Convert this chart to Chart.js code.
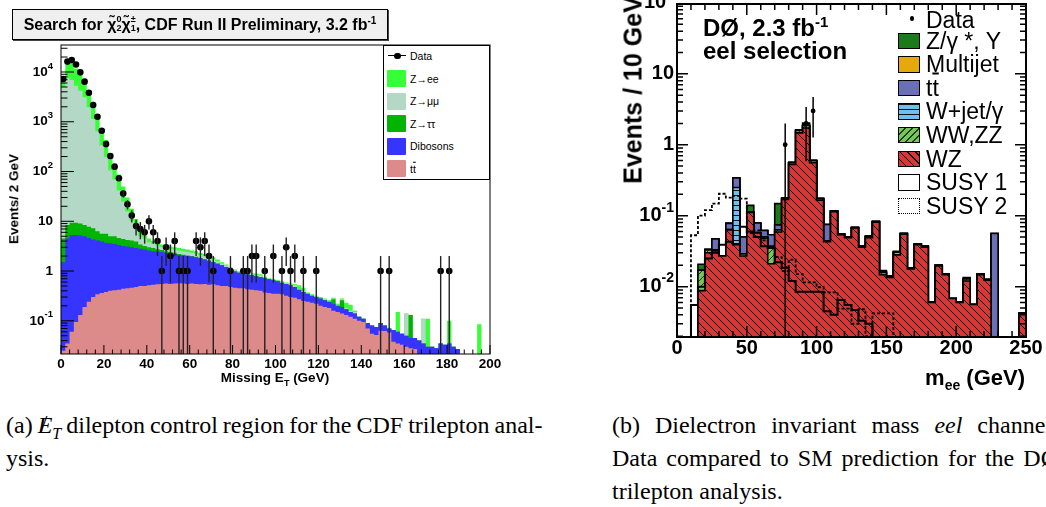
<!DOCTYPE html>
<html>
<head>
<meta charset="utf-8">
<title>CDF and DØ trilepton plots</title>
<script src="https://cdn.jsdelivr.net/npm/chart.js@4.4.1/dist/chart.umd.min.js"></script>
<style>
  html, body { margin: 0; padding: 0; background: #fff; }
  body { position: relative; width: 1046px; height: 507px; overflow: hidden;
         font-family: "Liberation Sans", Arial, Helvetica, sans-serif; color: #000; }
  canvas { position: absolute; top: 0; }
  #cdf { left: 0; }
  #d0 { left: 560px; }
  .c { position: absolute; white-space: nowrap; line-height: 1; transform: translate(-50%, -50%); }
  .r { position: absolute; white-space: nowrap; line-height: 1; transform: translate(-100%, -50%); }
  .l { position: absolute; white-space: nowrap; line-height: 1; transform: translate(0, -50%); }
  .rot { transform: translate(-50%, -50%) rotate(-90deg); }
  .b { font-weight: bold; }
  sub, sup { line-height: 0; }
  #title { position: absolute; left: 12px; top: 9px; width: 376px; height: 31px; box-sizing: border-box;
           border: 1px solid #000; background: #efefef; box-shadow: 1px 1px 0 #444;
           font: bold 16px "Liberation Sans", Arial, sans-serif; line-height: 29px;
           text-align: center; white-space: nowrap; }
  .ss { display: inline-block; vertical-align: middle; font-size: 9px; line-height: 9px;
        text-align: left; margin: -4px 0 0 0; }
  .sw { position: absolute; box-sizing: border-box; }
  .ll { position: absolute; font-size: 10.5px; line-height: 1; transform: translate(0, -50%); white-space: nowrap; }
  .dl { position: absolute; font-size: 23px; line-height: 1; transform: translate(0, -50%); white-space: nowrap; }
  .ov { text-decoration: overline; }
  .cap { position: absolute; font: 24px "Liberation Serif", "Times New Roman", serif; line-height: 1; white-space: nowrap; }
  .just { text-align: justify; text-align-last: justify; white-space: normal; }
  .met { position: relative; display: inline-block; font-style: italic; }
  .met .sl { position: absolute; left: 3px; top: -2px; font-style: normal; }
</style>
</head>
<body>
<canvas id="cdf" width="520" height="400"></canvas>
<canvas id="d0" width="486" height="400"></canvas>

<div id="title">Search for χ̃<span class="ss">0<br>2</span>χ̃<span class="ss">±<br>1</span>, CDF Run II Preliminary, 3.2 fb<sup style="font-size:10px">-1</sup></div>

<div class="c rot b" style="left:14px; top:199px; font-size:13.5px;">Events/ 2 GeV</div>
<div class="c b" style="left:275px; top:378px; font-size:13.5px;">Missing E<sub style="font-size:9px">T</sub> (GeV)</div>

<div class="c rot b" style="left:633px; top:90px; font-size:25px;">Events / 10 GeV</div>
<div class="l b" style="left:703px; top:28px; font-size:24px;">DØ, 2.3 fb<sup style="font-size:15px">-1</sup></div>
<div class="l b" style="left:703px; top:51px; font-size:24px;">eel selection</div>
<div class="r b" style="left:1025px; top:378px; font-size:22px;">m<sub style="font-size:14px">ee</sub> (GeV)</div>

<div class="cap" style="left:6px; top:413px; word-spacing:-1px;">(a) <span class="met">E<span class="sl">/</span></span><sub style="font-size:16px"><i>T</i></sub> dilepton control region for the CDF trilepton anal-</div>
<div class="cap" style="left:6px; top:446px;">ysis.</div>
<div class="cap just" style="left:612px; top:413px; width:446px;">(b) Dielectron invariant mass <i>eel</i> channel.</div>
<div class="cap just" style="left:612px; top:446px; width:446px;">Data compared to SM prediction for the DØ</div>
<div class="cap" style="left:612px; top:479px;">trilepton analysis.</div>

<script>
// ---------- CDF: missing ET, 2 GeV bins from 0 to 200 ----------
const cdfBinWidth = 2;
const cdfData = [7240,16200,17400,14200,9850,6400,3840,2170,1260,660,
  356,205,125,73,36,22,13,8,7,6,
  10,6,4,1,3,2,4,1,1,1,
  0,4,3,4,2,1,0,0,0,1,
  0,0,1,1,2,2,0,1,0,2,
  0,1,3,1,2,0,1,0,0,1,
  0,0,0,0,0,0,0,0,0,0,
  0,0,0,0,1,0,1,0,0,0,
  0,0,0,0,0,0,0,0,1,0,
  1,0,0,0,0,0,0,0,0,0];
const cdfTtbar = [0.025,0.035,0.06,0.095,0.13,0.19,0.24,0.3,0.34,0.36,
  0.38,0.4,0.41,0.42,0.44,0.45,0.46,0.48,0.5,0.5,
  0.52,0.53,0.54,0.55,0.56,0.55,0.56,0.57,0.56,0.55,
  0.56,0.55,0.54,0.55,0.53,0.54,0.52,0.5,0.5,0.48,
  0.46,0.45,0.45,0.43,0.42,0.41,0.4,0.37,0.36,0.35,
  0.35,0.34,0.32,0.3,0.29,0.27,0.25,0.24,0.23,0.22,
  0.2,0.19,0.18,0.16,0.15,0.14,0.13,0.12,0.11,0.1,
  0.095,0.07,0.055,0.052,0.063,0.062,0.058,0.038,0.035,0.033,
  0.03,0.028,0.027,0.02,0.018,0.016,0.014,0.012,0.011,0.01,
  0.009,0.008,0.007,0.006,0.005,0.004,0.004,0.003,0.003,0.002];
const cdfDiboson = [1.47,4.46,5.24,5.2,5.07,4.81,4.36,4.0,3.76,3.54,
  3.32,3.2,3.09,2.93,2.76,2.65,2.54,2.42,2.3,2.2,
  2.08,1.97,1.91,1.85,1.74,1.7,1.64,1.53,1.49,1.45,
  1.39,1.35,1.26,1.15,1.07,0.96,0.88,0.8,0.7,0.6,
  0.52,0.47,0.43,0.42,0.4,0.37,0.35,0.35,0.32,0.3,
  0.27,0.24,0.23,0.22,0.19,0.15,0.13,0.11,0.09,0.08,
  0.08,0.07,0.06,0.06,0.05,0.05,0.04,0.03,0.03,0.02,
  0.015,0.02,0.025,0.023,0.027,0.018,0.012,0.027,0.025,0.022,
  0.02,0.017,0.018,0.02,0.017,0.014,0.016,0.016,0.024,0.023,
  0.026,0.022,0.02,0,0,0,0,0,0,0];
const cdfZtautau = [3.0,3.9,4.0,4.0,3.8,3.4,3.2,2.9,2.2,1.7,
  1.9,1.4,1.5,1.25,1.2,1.1,1.1,1.0,0.6,0.5,
  0.4,0.4,0.3,0.25,0.2,0.15,0.12,0.1,0.08,0.06,
  0.05,0.04,0.03,0.03,0.02,0.02,0.02,0.01,0.01,0.01,
  0.01,0.01,0.01,0.01,0.01,0.01,0.01,0.01,0,0,
  0,0,0,0,0,0,0,0,0,0,
  0,0,0,0.05,0,0.07,0,0,0,0,
  0,0,0,0,0,0,0,0,0,0,
  0,0.085,0,0,0,0,0,0,0,0,
  0,0,0,0,0,0,0,0,0,0];
const cdfZmumu = [5000,7500,6900,5300,4200,3100,1950,1130,640,330,
  190,101,64,37,20.5,11.6,6.2,3.2,1.6,1.3,
  0.8,0.6,0.5,0.4,0.38,0.4,0.38,0.4,0.37,0.35,
  0.33,0.3,0.26,0.25,0.2,0.2,0.15,0.1,0.08,0.05,
  0.05,0.03,0.03,0.02,0.05,0.02,0.06,0.02,0.02,0.02,
  0.02,0.02,0.02,0.02,0.05,0.02,0.02,0.01,0.01,0.01,
  0.01,0.01,0.01,0.01,0.01,0.01,0.01,0.01,0.01,0,
  0,0,0,0,0,0,0,0,0,0,
  0.09,0,0,0,0.075,0,0,0,0,0,
  0,0,0,0,0,0,0,0,0,0];
const cdfZee = [2500,9500,8490,6490,5190,3790,2380,1390,784,404,
  234,124,79,45.5,25,14.2,7.5,3.9,1.9,1.0,
  0.7,0.5,0.45,0.35,0.32,0.3,0.3,0.3,0.3,0.29,
  0.27,0.26,0.21,0.22,0.18,0.18,0.13,0.09,0.06,0.04,
  0.03,0.03,0.02,0.02,0.02,0.08,0.04,0.02,0.02,0.02,
  0.02,0.02,0.02,0.02,0.02,0.08,0.06,0.01,0.01,0.01,
  0.01,0.01,0.01,0.01,0.01,0.01,0.05,0.05,0.01,0,
  0,0,0,0,0,0,0,0,0.09,0,
  0,0,0,0,0,0.08,0,0,0,0,
  0.065,0,0,0,0,0,0,0.082,0,0];
const cdfXLabels = [0, 20, 40, 60, 80, 100, 120, 140, 160, 180, 200];
const cdfYLabels = [0.1, 1, 10, 100, 1000, 10000];

// ---------- DØ: m_ee, 5 GeV bins from 0 to 250 ----------
const d0BinWidth = 5;
const d0Data = [0,0,0,0,0,0,0,0,0,0, 0,0,0,0,0,1,0,0,2,3,
  0,0,0,0,0,0,0,0,0,0, 0,0,0,0,0,0,0,0,0,0, 0,0,0,0,0,0,0,0,0,0];
const d0WZ = [0,0,0,0.0088,0.030,0.032,0.027,0.063,0.039,0.027,
  0.111,0.057,0.048,0.021,0.059,0.17,0.53,1.47,1.72,0.56,
  0.166,0.043,0.114,0.054,0.049,0.067,0.036,0.049,0.081,0.0147,
  0.0135,0.028,0.055,0.0178,0.039,0.036,0.006,0.0195,0.0147,0.0068,
  0.006,0.012,0.0056,0.0147,0.0123,0,0,0,0,0.0042];
const d0WWZZ = [0,0,0,0.0082,0.003,0.001,0,0.001,0.001,0.002,
  0.002,0.001,0.002,0.016,0.004,0.006,0.03,0.12,0.15,0.04,
  0.009,0.001,0.002,0.001,0.001,0.001,0.001,0.002,0.002,0.0012,
  0.0005,0.0025,0.001,0.0005,0.001,0.001,0,0.0005,0.0005,0,
  0,0.0008,0,0.0004,0.0003,0,0,0,0,0];
const d0Wjet = [0,0,0,0,0,0,0,0,0.21,0, 0,0,0,0,0,0,0,0,0,0,
  0,0,0,0,0,0,0,0,0,0, 0,0,0,0,0,0,0,0,0,0, 0,0,0,0,0,0,0,0,0,0];
const d0Ttbar = [0,0,0,0,0,0.014,0,0.014,0.09,0.021,
  0,0.021,0.012,0.017,0.011,0,0,0,0,0,
  0,0.031,0,0,0,0,0,0,0,0,
  0,0,0,0,0,0,0,0,0,0,
  0,0,0,0,0,0.056,0,0,0,0];
const d0Multijet = [0,0,0,0,0,0,0,0,0,0, 0,0,0,0,0,0,0,0,0,0,
  0,0,0,0,0,0,0,0,0,0, 0,0,0,0,0,0,0,0,0,0, 0,0,0,0,0,0,0,0,0,0];
const d0Zgamma = [0,0,0,0.0037,0.001,0,0,0,0,0,
  0.027,0,0,0,0.074,0,0,0.04,0.15,0,
  0,0,0,0,0,0,0,0.001,0,0.001,
  0,0.001,0,0,0,0,0,0,0,0,
  0,0.0006,0,0,0,0,0,0,0,0];
const d0Susy1 = [0,0,0.0055,0.01,0.025,0.03,0.039,0.043,0.04,0.07,
  0.06,0.05,0.037,0.035,0.022,0.0185,0.012,0.0085,0.0085,0.0085,
  0.0085,0.0045,0.004,0.0065,0.0055,0.0047,0.0033,0.003,0,0,
  0,0,0,0,0,0,0,0,0,0, 0,0,0,0,0,0,0,0,0,0];
const d0Susy2 = [0,0,0.053,0.10,0.12,0.148,0.204,0.18,0.19,0.174,
  0.057,0.062,0.045,0.035,0.026,0.0166,0.024,0.015,0.0115,0.0115,
  0.0098,0.0083,0.0083,0.0049,0.0049,0.003,0.0048,0.002,0.0042,0.0042,
  0.0042,0,0,0,0,0,0,0,0,0, 0,0,0,0,0,0,0,0,0,0];
const d0XLabels = [0, 50, 100, 150, 200, 250];
const d0YLabels = [0.01, 0.1, 1, 10, 100];

// ---------- helpers ----------
const FLOOR = 1e-9; // below the axis, so empty bins drop out of view

function edges(n, w) {
  const e = [];
  for (let i = 0; i <= n; i++) e.push(i * w);
  return e;
}

// running sums, bottom layer first
function cumulate(layers) {
  const out = [];
  let run = layers[0].map(() => 0);
  layers.forEach(l => {
    run = run.map((v, i) => v + l[i]);
    out.push(run);
  });
  return out;
}

// histogram outline as points for a stepped line
function histPoints(values, w) {
  const e = edges(values.length, w);
  const pts = [{ x: 0, y: FLOOR }];
  values.forEach((v, i) => pts.push({ x: e[i], y: v > 0 ? v : FLOOR }));
  const last = values[values.length - 1];
  pts.push({ x: e[values.length], y: last > 0 ? last : FLOOR });
  pts.push({ x: e[values.length], y: FLOOR });
  return pts;
}

function dataPoints(counts, w) {
  const pts = [];
  counts.forEach((n, i) => { if (n > 0) pts.push({ x: i * w + w / 2, y: n }); });
  return pts;
}

function hatch(fill, dir, size, lineColor, lw) {
  const c = document.createElement('canvas');
  c.width = c.height = size;
  const g = c.getContext('2d');
  g.fillStyle = fill;
  g.fillRect(0, 0, size, size);
  g.strokeStyle = lineColor;
  g.lineWidth = lw;
  g.beginPath();
  if (dir === 'back') {
    for (const k of [-1, 0, 1]) { g.moveTo(k * size, 0); g.lineTo(k * size + size, size); }
  } else if (dir === 'fwd') {
    for (const k of [-1, 0, 1]) { g.moveTo(k * size, size); g.lineTo(k * size + size, 0); }
  } else {
    g.moveTo(0, 0.5); g.lineTo(size, 0.5);
  }
  g.stroke();
  return g.createPattern(c, 'repeat');
}

function logTicks(min, max) {
  const t = [];
  for (let e = Math.floor(Math.log10(min)); e <= Math.ceil(Math.log10(max)); e++) {
    for (let m = 1; m < 10; m++) {
      const v = m * Math.pow(10, e);
      if (v >= min && v <= max) t.push({ v, major: m === 1 });
    }
  }
  return t;
}

function linTicks(max, minorStep, majorStep) {
  const t = [];
  for (let v = 0; v <= max + 1e-9; v += minorStep) t.push({ v, major: Math.abs(v / majorStep - Math.round(v / majorStep)) < 1e-6 });
  return t;
}

function drawPow(ctx, v, xr, yc, baseFont, expFont, raise) {
  const e = Math.round(Math.log10(v));
  const base = e === 0 ? '1' : '10';
  const exp = (e === 0 || e === 1) ? '' : String(e);
  ctx.font = baseFont;
  const wb = ctx.measureText(base).width;
  ctx.font = expFont;
  const we = exp ? ctx.measureText(exp).width : 0;
  ctx.textAlign = 'left';
  ctx.textBaseline = 'middle';
  ctx.font = baseFont;
  ctx.fillText(base, xr - wb - we, yc);
  if (exp) {
    ctx.font = expFont;
    ctx.fillText(exp, xr - we, yc - raise);
  }
}

// ROOT-like frame: ticks pointing inwards, labels drawn from the scales
function frameAxes(o) {
  return {
    id: 'frameAxes',
    afterDatasetsDraw(chart) {
      const { ctx, chartArea: a } = chart;
      const x = chart.scales.x, y = chart.scales.y;
      ctx.save();
      ctx.strokeStyle = '#000';
      ctx.lineWidth = o.tickWidth;
      ctx.beginPath();
      o.yTicks.forEach(t => {
        const py = y.getPixelForValue(t.v);
        if (py < a.top - 0.5 || py > a.bottom + 0.5) return;
        const len = t.major ? o.yMajorLen : o.yMinorLen;
        ctx.moveTo(a.left, py); ctx.lineTo(a.left + len, py);
        if (o.mirror) { ctx.moveTo(a.right, py); ctx.lineTo(a.right - len, py); }
      });
      o.xTicks.forEach(t => {
        const px = x.getPixelForValue(t.v);
        const len = t.major ? o.xMajorLen : o.xMinorLen;
        ctx.moveTo(px, a.bottom); ctx.lineTo(px, a.bottom - len);
        if (o.mirror) { ctx.moveTo(px, a.top); ctx.lineTo(px, a.top + len); }
      });
      ctx.stroke();
      ctx.lineWidth = o.frameWidth;
      ctx.strokeRect(a.left, a.top, a.right - a.left, a.bottom - a.top);
      ctx.fillStyle = '#000';
      o.yLabels.forEach(v => drawPow(ctx, v, a.left - o.yLabelGap, y.getPixelForValue(v), o.font, o.expFont, o.raise));
      ctx.font = o.font;
      ctx.textAlign = 'center';
      ctx.textBaseline = 'middle';
      o.xLabels.forEach(v => ctx.fillText(String(v), x.getPixelForValue(v), a.bottom + o.xLabelOffset));
      ctx.restore();
    }
  };
}

function errorBars(counts, w, color, width) {
  return {
    id: 'errorBars',
    afterDatasetsDraw(chart) {
      const { ctx, chartArea: a } = chart;
      const x = chart.scales.x, y = chart.scales.y;
      ctx.save();
      ctx.beginPath();
      ctx.rect(a.left, a.top, a.right - a.left, a.bottom - a.top);
      ctx.clip();
      ctx.strokeStyle = color;
      ctx.lineWidth = width;
      counts.forEach((n, i) => {
        if (!n) return;
        const px = x.getPixelForValue(i * w + w / 2);
        const err = Math.sqrt(n);
        const top = y.getPixelForValue(n + err);
        const bot = n - err > 0 ? y.getPixelForValue(n - err) : a.bottom;
        ctx.beginPath();
        ctx.moveTo(px, top);
        ctx.lineTo(px, bot);
        ctx.stroke();
      });
      ctx.restore();
    }
  };
}

function histSet(label, values, w, bg, order, border, bw) {
  return {
    label, data: histPoints(values, w), order,
    stepped: 'before', fill: 'start', backgroundColor: bg,
    borderColor: border || 'rgba(0,0,0,0)', borderWidth: bw || 0,
    pointRadius: 0
  };
}

// ---------- CDF chart ----------
const cdfColors = { ee: '#35ff35', mumu: '#b3d8c6', tautau: '#00b400', dib: '#3535ff', tt: '#dd8a8a' };
const cdfCum = cumulate([cdfTtbar, cdfDiboson, cdfZtautau, cdfZmumu, cdfZee]);

new Chart(document.getElementById('cdf'), {
  type: 'line',
  data: {
    datasets: [
      { label: 'Data', data: dataPoints(cdfData, cdfBinWidth), order: 0, showLine: false,
        pointRadius: 3.3, pointBackgroundColor: '#000', pointBorderWidth: 0 },
      histSet('tt', cdfCum[0], cdfBinWidth, cdfColors.tt, 11),
      histSet('Dibosons', cdfCum[1], cdfBinWidth, cdfColors.dib, 12),
      histSet('Z→ττ', cdfCum[2], cdfBinWidth, cdfColors.tautau, 13),
      histSet('Z→μμ', cdfCum[3], cdfBinWidth, cdfColors.mumu, 14),
      histSet('Z→ee', cdfCum[4], cdfBinWidth, cdfColors.ee, 15)
    ]
  },
  options: {
    responsive: false, animation: false, events: [], devicePixelRatio: 1,
    layout: { padding: { left: 61, top: 45, right: 30, bottom: 46 } },
    plugins: { legend: { display: false }, tooltip: { enabled: false } },
    scales: {
      x: { type: 'linear', min: 0, max: 200, display: false },
      y: { type: 'logarithmic', min: 0.0215, max: 34900, display: false }
    }
  },
  plugins: [
    errorBars(cdfData, cdfBinWidth, '#222', 1.4),
    frameAxes({
      frameWidth: 1, tickWidth: 1, mirror: false,
      yTicks: logTicks(0.0215, 34900), yMajorLen: 13, yMinorLen: 6.5,
      xTicks: linTicks(200, 4, 20), xMajorLen: 9, xMinorLen: 4.5,
      yLabels: cdfYLabels, xLabels: cdfXLabels,
      font: 'bold 13.5px "Liberation Sans", Arial, sans-serif',
      expFont: 'bold 9.5px "Liberation Sans", Arial, sans-serif',
      raise: 6, yLabelGap: 8, xLabelOffset: 10
    })
  ]
});

// ---------- DØ chart ----------
const d0Fill = {
  zg: '#1b7b1b', mj: '#e6a90a', tt: '#6a70b6',
  wj: hatch('#6ec1ef', 'h', 5, '#111', 1),
  ww: hatch('#79c55b', 'fwd', 7, '#1d3d12', 1),
  wz: hatch('#d93636', 'back', 8, '#000', 1)
};
const d0Cum = cumulate([d0WZ, d0WWZZ, d0Wjet, d0Ttbar, d0Multijet, d0Zgamma]);

new Chart(document.getElementById('d0'), {
  type: 'line',
  data: {
    datasets: [
      { label: 'Data', data: dataPoints(d0Data, d0BinWidth), order: 0, showLine: false,
        pointRadius: 2.4, pointBackgroundColor: '#000', pointBorderWidth: 0 },
      { label: 'SUSY 1', data: histPoints(d0Susy1, d0BinWidth), order: 2, stepped: 'before',
        fill: false, borderColor: '#000', borderWidth: 2, pointRadius: 0 },
      { label: 'SUSY 2', data: histPoints(d0Susy2, d0BinWidth), order: 3, stepped: 'before',
        fill: false, borderColor: '#000', borderWidth: 1.8, borderDash: [3, 2], pointRadius: 0 },
      histSet('WZ', d0Cum[0], d0BinWidth, d0Fill.wz, 14, '#000', 1.6),
      histSet('WW,ZZ', d0Cum[1], d0BinWidth, d0Fill.ww, 15, '#000', 1.6),
      histSet('W+jet/γ', d0Cum[2], d0BinWidth, d0Fill.wj, 16, '#000', 1.6),
      histSet('tt', d0Cum[3], d0BinWidth, d0Fill.tt, 17, '#000', 1.6),
      histSet('Multijet', d0Cum[4], d0BinWidth, d0Fill.mj, 18, '#000', 1.6),
      histSet('Z/γ*, Υ', d0Cum[5], d0BinWidth, d0Fill.zg, 19, '#000', 1.6)
    ]
  },
  options: {
    responsive: false, animation: false, events: [], devicePixelRatio: 1,
    layout: { padding: { left: 117, top: 0, right: 20, bottom: 63 } },
    plugins: { legend: { display: false }, tooltip: { enabled: false } },
    scales: {
      x: { type: 'linear', min: 0, max: 250, display: false },
      y: { type: 'logarithmic', min: 0.00195, max: 96.5, display: false }
    }
  },
  plugins: [
    errorBars(d0Data, d0BinWidth, '#000', 1.5),
    frameAxes({
      frameWidth: 2, tickWidth: 1.5, mirror: true,
      yTicks: logTicks(0.00195, 96.5), yMajorLen: 11, yMinorLen: 6,
      xTicks: linTicks(250, 10, 50), xMajorLen: 11, xMinorLen: 6,
      yLabels: d0YLabels, xLabels: d0XLabels,
      font: 'bold 20px "Liberation Sans", Arial, sans-serif',
      expFont: 'bold 14px "Liberation Sans", Arial, sans-serif',
      raise: 8, yLabelGap: 3, xLabelOffset: 11
    })
  ]
});

// ---------- legends ----------
function el(parent, cls, style, html) {
  const d = document.createElement('div');
  d.className = cls;
  d.style.cssText = style;
  if (html) d.innerHTML = html;
  parent.appendChild(d);
  return d;
}

const body = document.body;
el(body, 'sw', 'left:383px; top:45px; width:107px; height:135px; border:1px solid #000; background:#fff;');
const cdfLegendItems = [
  ['Z→ee', cdfColors.ee], ['Z→μμ', cdfColors.mumu], ['Z→ττ', cdfColors.tautau],
  ['Dibosons', cdfColors.dib], ['t<span class="ov">t</span>', cdfColors.tt]
];
el(body, 'sw', 'left:388px; top:55px; width:18px; height:1.3px; background:#000;');
el(body, 'sw', 'left:394px; top:52.5px; width:6.5px; height:6.5px; border-radius:50%; background:#000;');
el(body, 'll', 'left:410px; top:56px;', 'Data');
cdfLegendItems.forEach(([label, color], i) => {
  const yc = 78.5 + i * 22.6;
  el(body, 'sw', `left:387px; top:${yc - 8.5}px; width:19px; height:17px; background:${color}; border-radius:1px;`);
  el(body, 'll', `left:410px; top:${yc}px;`, label);
});

const d0LegendItems = [
  ['Z/γ *, Υ', 'background:#1b7b1b;'],
  ['Multijet', 'background:#e6a90a;'],
  ['t<span class="ov">t</span>', 'background:#6a70b6;'],
  ['W+jet/γ', 'background:repeating-linear-gradient(0deg, #6ec1ef 0 4px, #111 4px 5px);'],
  ['WW,ZZ', 'background:repeating-linear-gradient(135deg, #79c55b 0 4px, #1d3d12 4px 5px);'],
  ['WZ', 'background:repeating-linear-gradient(45deg, #d93636 0 4.5px, #000 4.5px 5.5px);'],
  ['SUSY 1', 'background:#fff;'],
  ['SUSY 2', 'background:#fff; border-style:dotted !important;']
];
el(body, 'sw', 'left:909.5px; top:16px; width:4.5px; height:4.5px; border-radius:50%; background:#000;');
el(body, 'dl', 'left:926px; top:20px;', 'Data');
d0LegendItems.forEach(([label, fill], i) => {
  const yc = 40.5 + i * 23.6;
  el(body, 'sw', `left:898px; top:${yc - 8}px; width:22px; height:16.5px; border:1.6px solid #000; ${fill}`);
  el(body, 'dl', `left:926px; top:${yc}px;`, label);
});
</script>
</body>
</html>
